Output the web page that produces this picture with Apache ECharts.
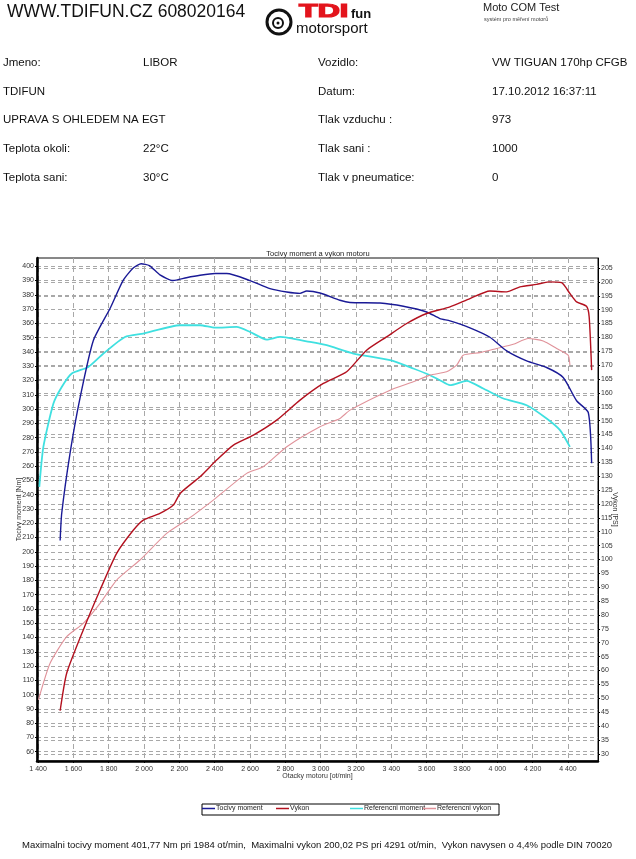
<!DOCTYPE html>
<html>
<head>
<meta charset="utf-8">
<script src="https://cdn.jsdelivr.net/npm/echarts@6/dist/echarts.min.js"></script>
<style>
html,body{margin:0;padding:0;background:#fff;}
#chart{width:636px;height:859px;}
</style>
</head>
<body>
<div id="chart"></div>
<script>
// ---- data ----
const torqueRpm = [1525,1534,1581,1638,1713,1808,1881,1940,1984,2030,2090,2164,2240,2317,2402,2468,2600,2713,2808,2883,2921,2996,3109,3166,3336,3468,3600,3675,3732,3845,3958,4053,4166,4279,4373,4449,4515,4534];
const torqueVal = [208,227,269,308,348,370.6,390,399,401.8,400.5,394,390,392,393.7,394.9,394.9,390,384.4,382,381,382.7,381.3,376.2,374.6,374.3,372,368,363.4,361.8,356.9,350.3,340.8,333.8,329.1,322.1,305.8,297.6,262];

const powerRpm = [1525,1562,1656,1751,1845,1940,1996,2090,2166,2204,2317,2411,2506,2619,2751,2883,3015,3147,3260,3373,3487,3600,3732,3845,3958,4053,4128,4223,4291,4364,4411,4449,4505,4520,4534];
const powerVal = [45.5,59,74.6,89,102.2,110.6,114.2,116.6,119.6,123.8,129.8,135.8,141.2,144.8,150.2,157.4,163.4,167.6,175.4,180.2,185,188.6,191,194,196.7,196.4,198.2,199.1,200,199.7,195.8,192.8,191.2,187.4,168.2];

const refTorqueRpm = [1407,1430,1487,1534,1591,1685,1770,1892,1996,2204,2317,2402,2524,2600,2694,2770,2940,3034,3185,3393,3524,3619,3675,3732,3826,3920,4034,4166,4279,4355,4411];
const refTorqueVal = [245.5,273.5,303.9,315.5,324.9,329.5,338.9,350.5,352.9,358.7,358.7,357,357.5,354,348.7,350.5,347,344.7,338.9,334.2,328.4,323.7,320.2,316.7,319.7,314.4,307.4,302.7,293.4,285.2,273.5];

const refPowerRpm = [1402,1468,1562,1656,1751,1845,1977,2128,2241,2392,2581,2675,2808,2996,3109,3166,3393,3524,3619,3713,3770,3807,3902,3996,4090,4175,4260,4336,4401,4411];
const refPowerVal = [49.4,62.6,72.2,77,84.2,92.6,99.8,109.4,114.2,121.4,131,133.4,140.6,147.8,150.8,153.8,161,164,166.4,167.6,170,173.6,174.5,176,177.5,179.6,178.7,176,173.6,170];

const xTicks = [1400,1600,1800,2000,2200,2400,2600,2800,3000,3200,3400,3600,3800,4000,4200,4400];
const leftTicks = [60,70,80,90,100,110,120,130,140,150,160,170,180,190,200,210,220,230,240,250,260,270,280,290,300,310,320,330,340,350,360,370,380,390,400];
const rightTicks = [30,35,40,45,50,55,60,65,70,75,80,85,90,95,100,105,110,115,120,125,130,135,140,145,150,155,160,165,170,175,180,185,190,195,200,205];

const seriesNames = ['Tocivy moment','Vykon','Referencni moment','Referencni vykon'];
const seriesColors = ['#1a1a96','#b3111f','#3fe0e0','#e0929a'];
const infoLeft = [['Jmeno:','LIBOR'],['TDIFUN',''],['UPRAVA S OHLEDEM NA EGT',''],['Teplota okoli:','22°C'],['Teplota sani:','30°C']];
const infoRight = [['Vozidlo:','VW TIGUAN 170hp CFGB'],['Datum:','17.10.2012 16:37:11'],['Tlak vzduchu :','973'],['Tlak sani :','1000'],['Tlak v pneumatice:','0']];
const footerText = 'Maximalni tocivy moment 401,77 Nm pri 1984 ot/min,  Maximalni vykon 200,02 PS pri 4291 ot/min,  Vykon navysen o 4,4% podle DIN 70020';

function zip(a,b){return a.map((v,i)=>[v,b[i]]);}
const FF = 'Liberation Sans, Arial, sans-serif';

const chart = echarts.init(document.getElementById('chart'));

const graphic = [];
graphic.push({type:'text',x:7,y:12,style:{text:'WWW.TDIFUN.CZ 608020164',fontSize:17.5,fontFamily:FF,fill:'#111',verticalAlign:'middle'}});
graphic.push({type:'text',x:483,y:8,style:{text:'Moto COM Test',fontSize:11,fontFamily:FF,fill:'#222',verticalAlign:'middle'}});
graphic.push({type:'text',x:484,y:19,style:{text:'systém pro měření motorů',fontSize:5.5,fontFamily:FF,fill:'#444',verticalAlign:'middle'}});
// logo
graphic.push({type:'circle',shape:{cx:279,cy:22,r:12},style:{fill:'#fff',stroke:'#111',lineWidth:3}});
graphic.push({type:'circle',shape:{cx:278,cy:23,r:5},style:{fill:'#fff',stroke:'#111',lineWidth:2}});
graphic.push({type:'circle',shape:{cx:278,cy:23,r:1.5},style:{fill:'#111'}});
graphic.push({type:'text',x:299,y:21,scaleX:1.7,style:{text:'TDI',font:'bold 18px "Liberation Sans", Arial, sans-serif',fill:'#e3141c',stroke:'#e3141c',lineWidth:1.2,verticalAlign:'bottom'}});
graphic.push({type:'text',x:351,y:21,style:{text:'fun',font:'bold 13px "Liberation Sans", Arial, sans-serif',fill:'#111',verticalAlign:'bottom'}});
graphic.push({type:'text',x:296,y:29,style:{text:'motorsport',fontSize:15,fontFamily:FF,fill:'#111',verticalAlign:'middle'}});

const rowY = [63,92,120,149,178];
infoLeft.forEach((r,i)=>{
  graphic.push({type:'text',x:3,y:rowY[i],style:{text:r[0],fontSize:11.5,fontFamily:FF,fill:'#111',verticalAlign:'middle'}});
  if(r[1]) graphic.push({type:'text',x:143,y:rowY[i],style:{text:r[1],fontSize:11.5,fontFamily:FF,fill:'#111',verticalAlign:'middle'}});
});
infoRight.forEach((r,i)=>{
  graphic.push({type:'text',x:318,y:rowY[i],style:{text:r[0],fontSize:11.5,fontFamily:FF,fill:'#111',verticalAlign:'middle'}});
  graphic.push({type:'text',x:492,y:rowY[i],style:{text:r[1],fontSize:11.5,fontFamily:FF,fill:'#111',verticalAlign:'middle'}});
});
graphic.push({type:'text',x:22,y:845,style:{text:footerText,fontSize:9.5,fontFamily:FF,fill:'#111',verticalAlign:'middle'}});
// legend frame
graphic.push({type:'rect',shape:{x:202,y:804,width:297,height:11},style:{fill:'none',stroke:'#000',lineWidth:1},z:0});

const splitDash = {show:true,lineStyle:{color:'#a8a8a8',type:[4,3],width:1}};
const labelStyle = {fontSize:7,color:'#333',fontFamily:FF};
const legendLefts = [202,276,350,423];

const legends = seriesNames.map((n,i)=>({
  data:[n],left:legendLefts[i],top:805,padding:0,itemGap:0,
  icon:'rect',itemWidth:13,itemHeight:1.5,
  textStyle:{fontSize:7,color:'#222',fontFamily:FF,padding:[0,0,0,-4]}
}));

chart.setOption({
  animation:false,
  backgroundColor:'#fff',
  title:{text:'Tocivy moment a vykon motoru',left:'center',top:245,textStyle:{fontSize:7.5,fontWeight:'normal',color:'#222',fontFamily:FF}},
  legend:legends,
  grid:{left:37,top:258,width:561,height:503,show:true,borderColor:'#111',borderWidth:1,containLabel:false,outerBoundsMode:'none'},
  xAxis:{
    type:'value',min:1394,max:4570,
    name:'Otacky motoru [ot/min]',nameLocation:'middle',nameGap:12,nameMoveOverlap:false,
    nameTextStyle:{fontSize:7,color:'#333',fontFamily:FF},
    axisLine:{show:true,lineStyle:{color:'#000',width:2.5}},
    axisTick:{show:true,length:2,customValues:xTicks,lineStyle:{color:'#000'}},
    axisLabel:Object.assign({customValues:xTicks,margin:5,formatter:v=>{const s=String(v);return s.length>3?s.slice(0,s.length-3)+' '+s.slice(-3):s;}},labelStyle),
    splitLine:{show:true,lineStyle:{color:'#a8a8a8',type:[5,4],width:1}}
  },
  yAxis:[{
    type:'value',min:53.5,max:405.8,position:'left',
    name:'Tocivy moment [Nm]',nameLocation:'middle',nameGap:14,nameRotate:90,nameMoveOverlap:false,
    nameTextStyle:{fontSize:7,color:'#333',fontFamily:FF},
    axisLine:{show:true,lineStyle:{color:'#000',width:2.5}},
    axisTick:{show:true,length:2,customValues:leftTicks,lineStyle:{color:'#000'}},
    axisLabel:Object.assign({customValues:leftTicks,margin:3},labelStyle),
    splitLine:splitDash
  },{
    type:'value',min:27.4,max:208.6,position:'right',
    name:'Vykon [PS]',nameLocation:'middle',nameGap:13,nameRotate:-90,nameMoveOverlap:false,
    nameTextStyle:{fontSize:7,color:'#333',fontFamily:FF},
    axisLine:{show:true,lineStyle:{color:'#000',width:1}},
    axisTick:{show:true,length:2,customValues:rightTicks,lineStyle:{color:'#000'}},
    axisLabel:Object.assign({customValues:rightTicks,margin:3},labelStyle),
    splitLine:splitDash
  }],
  series:[
    {name:seriesNames[0],type:'line',yAxisIndex:0,data:zip(torqueRpm,torqueVal),showSymbol:false,smooth:0.2,lineStyle:{color:seriesColors[0],width:1.4},itemStyle:{color:seriesColors[0]},z:4},
    {name:seriesNames[1],type:'line',yAxisIndex:1,data:zip(powerRpm,powerVal),showSymbol:false,smooth:0.2,lineStyle:{color:seriesColors[1],width:1.4},itemStyle:{color:seriesColors[1]},z:4},
    {name:seriesNames[2],type:'line',yAxisIndex:0,data:zip(refTorqueRpm,refTorqueVal),showSymbol:false,smooth:0.2,lineStyle:{color:seriesColors[2],width:1.8},itemStyle:{color:seriesColors[2]},z:3},
    {name:seriesNames[3],type:'line',yAxisIndex:1,data:zip(refPowerRpm,refPowerVal),showSymbol:false,smooth:0.2,lineStyle:{color:seriesColors[3],width:1.1},itemStyle:{color:seriesColors[3]},z:3}
  ],
  graphic:graphic
});
</script>
</body>
</html>
